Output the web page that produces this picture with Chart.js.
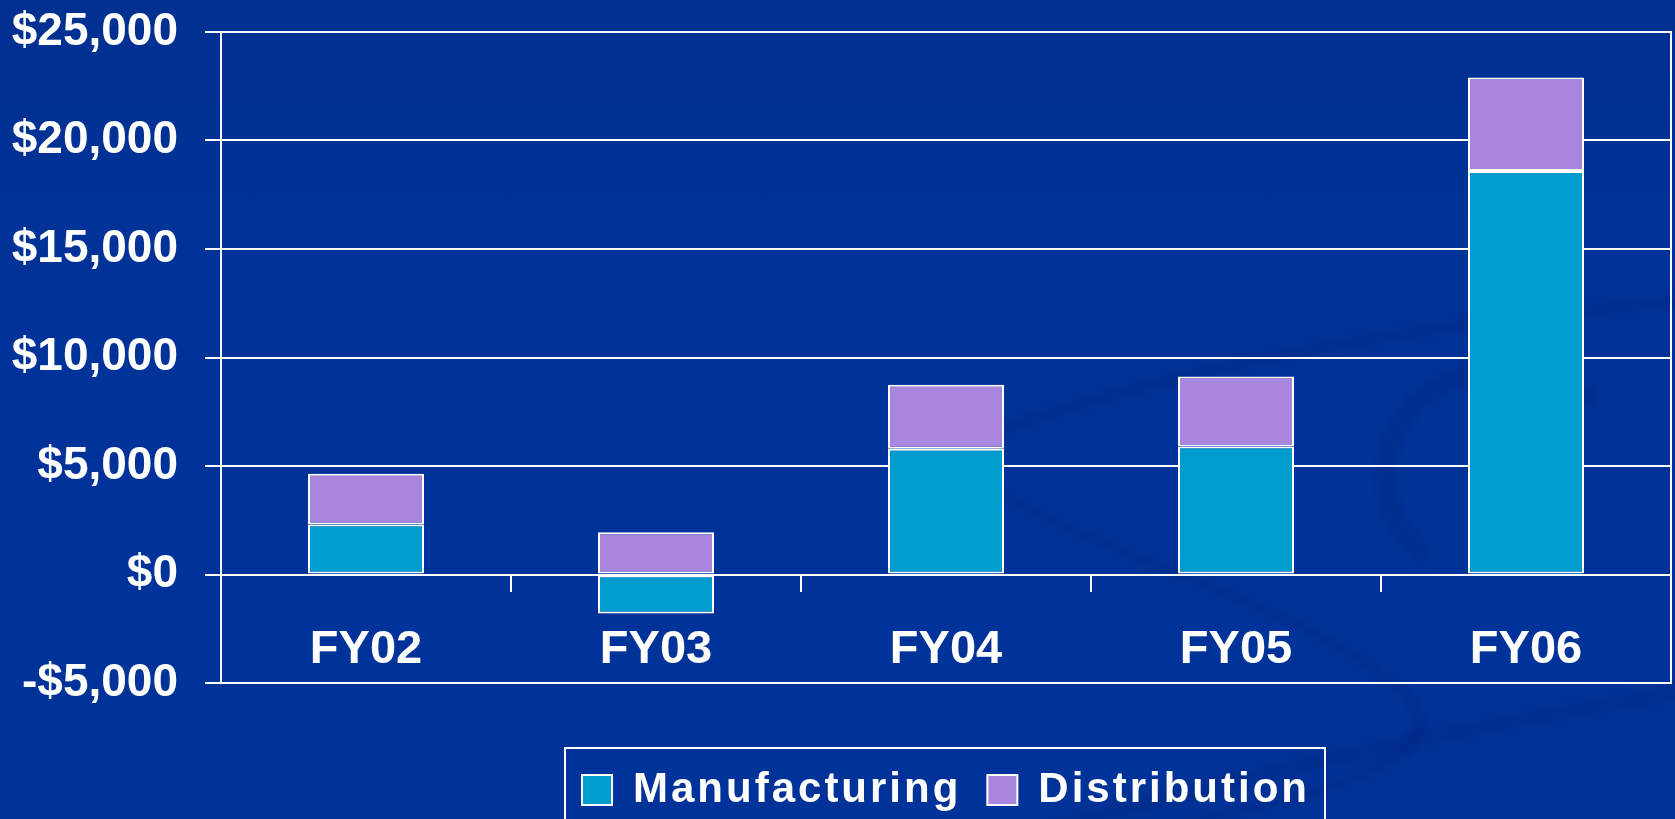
<!DOCTYPE html>
<html>
<head>
<meta charset="utf-8">
<script src="https://cdn.jsdelivr.net/npm/chart.js@4.4.1/dist/chart.umd.min.js"></script>
<style>
  html, body { margin: 0; padding: 0; width: 1675px; height: 819px; overflow: hidden; }
  body { background: linear-gradient(180deg, #003090 0%, #003399 35%, #003399 100%); }
  #wrap { position: relative; width: 1675px; height: 819px; }
</style>
</head>
<body>
<div id="wrap"><canvas id="chart"></canvas></div>
<script>
// values (in $ thousands)
const categories = ['FY02', 'FY03', 'FY04', 'FY05', 'FY06'];
const manufacturing = [2300, -1800, 5800, 5900, 18600];
const distribution = [2340, 1950, 2950, 3230, 4300];
const yMin = -5000;
const yMax = 25000;
const yStep = 5000;

const fontFamily = '"Liberation Sans", Arial, Helvetica, sans-serif';

function money(v) {
    let s = '$' + Math.abs(v).toLocaleString('en-US');
    return v < 0 ? '-' + s : s;
}

// faint dark swooshes of the slide template
const backdrop = {
    id: 'backdrop',
    beforeDraw(chart) {
        let c = chart.ctx;
        c.save();
        c.filter = 'blur(5px)';
        c.strokeStyle = 'rgba(0, 30, 110, 0.25)';
        c.lineCap = 'round';
        c.lineWidth = 16;
        c.beginPath();
        c.moveTo(1000, 430);
        c.bezierCurveTo(1200, 360, 1450, 320, 1700, 300);
        c.stroke();
        c.lineWidth = 12;
        c.beginPath();
        c.moveTo(980, 480);
        c.bezierCurveTo(1100, 560, 1300, 600, 1400, 690);
        c.bezierCurveTo(1480, 760, 1300, 800, 1150, 830);
        c.stroke();
        c.lineWidth = 22;
        c.beginPath();
        c.ellipse(1510, 480, 125, 110, 0.2, 2.2, 5.2);
        c.stroke();
        c.lineWidth = 18;
        c.beginPath();
        c.moveTo(1050, 830);
        c.bezierCurveTo(1300, 760, 1500, 720, 1700, 690);
        c.stroke();
        c.restore();
    }
};

// legend text in the slide is letter-spaced, so wrap fit + draw of the legend
const spacedLegend = {
    id: 'spacedLegend',
    beforeUpdate(chart) {
        let lg = chart.legend;
        if (!lg || lg._spaced) return;
        let fit = lg.fit, draw = lg.draw;
        lg.fit = function () {
            this.ctx.letterSpacing = '3px';
            fit.apply(this, arguments);
            this.ctx.letterSpacing = '0px';
        };
        lg.draw = function () {
            this.ctx.save();
            this.ctx.letterSpacing = '3px';
            draw.apply(this, arguments);
            this.ctx.restore();
        };
        lg._spaced = true;
    }
};

// white frame round the legend
const legendFrame = {
    id: 'legendFrame',
    afterDraw(chart) {
        let boxes = chart.legend.legendHitBoxes;
        if (!boxes || !boxes.length) return;
        let left = Math.min(...boxes.map(b => b.left)) - 17;
        let right = Math.max(...boxes.map(b => b.left + b.width)) + 15;
        let top = Math.min(...boxes.map(b => b.top)) - 21;
        let ctx = chart.ctx;
        ctx.save();
        ctx.strokeStyle = '#ffffff';
        ctx.lineWidth = 2;
        ctx.strokeRect(left, top, right - left, chart.height + 20 - top);
        ctx.restore();
    }
};

let ctx = document.getElementById('chart').getContext('2d');

window.bar = new Chart(ctx, {
    type: 'bar',
    data: {
        labels: categories,
        datasets: [{
            label: 'Manufacturing',
            data: manufacturing,
            backgroundColor: '#009CCD',
            borderColor: '#ffffff',
            borderWidth: 2,
            borderSkipped: false,
            categoryPercentage: 1,
            barPercentage: 0.4
        }, {
            label: 'Distribution',
            data: distribution,
            backgroundColor: '#A886DE',
            borderColor: '#ffffff',
            borderWidth: 2,
            borderSkipped: false,
            categoryPercentage: 1,
            barPercentage: 0.4
        }]
    },
    options: {
        responsive: true,
        maintainAspectRatio: false,
        animation: false,
        layout: { padding: { top: 32, right: 0, bottom: -2, left: 0 } },
        plugins: {
            legend: {
                position: 'bottom',
                fullSize: false,
                labels: {
                    color: '#ffffff',
                    font: { family: fontFamily, size: 42, weight: 'bold' },
                    boxWidth: 30,
                    boxHeight: 30,
                    padding: 26
                }
            },
            tooltip: { enabled: false }
        },
        scales: {
            x: {
                stacked: true,
                position: { y: 0 },
                offset: true,
                grid: {
                    offset: true,
                    drawOnChartArea: false,
                    drawTicks: true,
                    tickLength: 16,
                    color: '#ffffff',
                    lineWidth: 2
                },
                border: { display: true, color: '#ffffff', width: 2 },
                ticks: {
                    color: '#ffffff',
                    font: { family: fontFamily, size: 47, weight: 'bold' },
                    padding: 31,
                    maxRotation: 0,
                    autoSkip: false
                },
                afterFit(s) { s.height = 0; }
            },
            xPad: {
                type: 'category',
                position: 'bottom',
                grid: { display: false },
                border: { display: false },
                ticks: { display: false },
                afterFit(s) { s.height = 60; }
            },
            y: {
                stacked: true,
                min: yMin,
                max: yMax,
                ticks: {
                    stepSize: yStep,
                    color: '#ffffff',
                    font: { family: fontFamily, size: 46, weight: 'bold' },
                    padding: 27,
                    callback: v => money(v)
                },
                grid: { color: '#ffffff', lineWidth: 2, tickLength: 16 },
                border: { color: '#ffffff', width: 2 },
                afterFit(s) {
                    s.width = 221;
                    s.paddingTop = 0;
                    s.paddingBottom = 0;
                }
            },
            yRight: {
                position: 'right',
                grid: { display: false },
                ticks: { display: false },
                border: { display: true, color: '#ffffff', width: 2 },
                afterFit(s) {
                    s.width = 4;
                    s.paddingTop = 0;
                    s.paddingBottom = 0;
                }
            }
        }
    },
    plugins: [backdrop, spacedLegend, legendFrame]
});
</script>
</body>
</html>
